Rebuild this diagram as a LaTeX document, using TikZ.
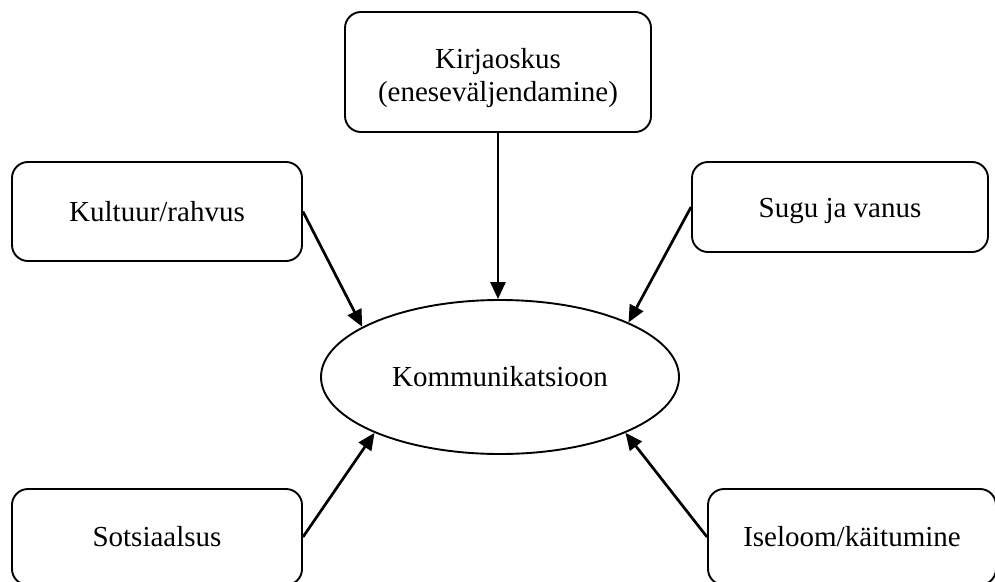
\documentclass[tikz,border=0pt]{standalone}
\usepackage{fontspec}
\setmainfont{Liberation Serif}
\usetikzlibrary{shapes.geometric,arrows.meta}
\begin{document}
\begin{tikzpicture}[x=1pt,y=-1pt,
  box/.style={draw,line width=1.9pt,rounded corners=16pt,inner sep=0pt,align=center,
    font=\fontsize{29}{33}\selectfont},
  txt/.style={inner sep=0pt,align=center,font=\fontsize{29}{33}\selectfont},
  oval/.style={draw,ellipse,line width=1.9pt,inner sep=0pt,minimum width=358pt,minimum height=154pt,
    font=\fontsize{29}{33}\selectfont},
  arr/.style={line width=2.7pt,-{Triangle[length=17pt,width=15pt]}}]
\useasboundingbox (0,0) rectangle (995,581);
\node[oval] (k) at (500,377) {Kommunikatsioon};
\node[box,minimum width=306pt,minimum height=120pt] (kir) at (498,72) {};
\node[txt] (kirt) at (498,78) {Kirjaoskus\\(eneseväljendamine)};
\node[box,minimum width=290pt,minimum height=99pt] (kul) at (157,211.5) {Kultuur/rahvus};
\node[box,minimum width=296pt,minimum height=90pt] (sug) at (840,207) {};
\node[txt] (sugt) at (840,211) {Sugu ja vanus};
\node[box,minimum width=290pt,minimum height=96pt] (sot) at (157,537) {Sotsiaalsus};
\node[box,minimum width=288pt,minimum height=96pt] (ise) at (852,537) {Iseloom/käitumine};
\draw[arr] (kir.south) -- (kir.south |- k.north);
\draw[arr] (kul.east) -- (k.160);
\draw[arr] (sug.west) -- (k.23);
\draw[arr] (sot.east) -- (k.204);
\draw[arr] (ise.west) -- (k.336);
\end{tikzpicture}
\end{document}
